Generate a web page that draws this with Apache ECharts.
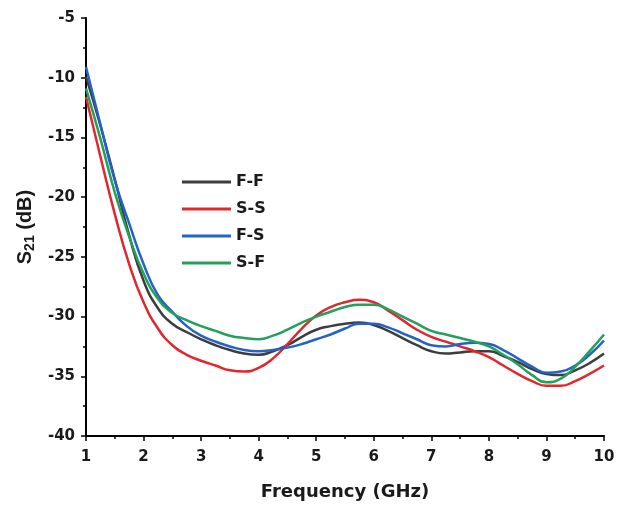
<!DOCTYPE html>
<html lang="en">
<head>
    <meta charset="UTF-8">
    <title>S21 vs Frequency</title>
    <script src="https://cdn.jsdelivr.net/npm/echarts@6/dist/echarts.min.js"></script>
    <style>
        html, body { margin: 0; padding: 0; background: #fff; }
        #chart { width: 625px; height: 506px; }
    </style>
</head>
<body>
<div id="chart"></div>
<script type="text/javascript">
    // frequency points (GHz)
    var freq = [1, 1.25, 1.5, 1.75, 2, 2.25, 2.5, 2.75, 3, 3.25, 3.5, 3.75, 4, 4.25, 4.5, 4.75, 5, 5.25, 5.5, 5.75,
                6, 6.25, 6.5, 6.75, 7, 7.25, 7.5, 7.75, 8, 8.25, 8.5, 8.75, 9, 9.25, 9.5, 9.75, 10];
    // S21 (dB)
    var ffVals = [-9.9, -14.0, -18.5, -23.2, -27.0, -29.3, -30.6, -31.3, -31.9, -32.4, -32.8, -33.1, -33.2, -32.9, -32.4, -31.7, -31.1, -30.8, -30.6, -30.5,
                  -30.7, -31.2, -31.8, -32.4, -32.9, -33.1, -33.0, -32.9, -32.9, -33.3, -33.8, -34.4, -34.8, -34.9, -34.5, -33.9, -33.1];
    var ssVals = [-11.6, -16.6, -21.4, -25.6, -28.8, -31.0, -32.4, -33.2, -33.7, -34.1, -34.5, -34.6, -34.3, -33.5, -32.3, -31.0, -29.9, -29.2, -28.8, -28.6,
                  -28.8, -29.5, -30.3, -31.1, -31.7, -32.1, -32.5, -32.9, -33.4, -34.1, -34.8, -35.4, -35.8, -35.8, -35.4, -34.8, -34.1];
    var fsVals = [-9.1, -13.9, -18.6, -22.2, -25.6, -28.2, -29.6, -30.8, -31.6, -32.1, -32.5, -32.8, -32.9, -32.8, -32.6, -32.3, -31.9, -31.5, -31.0, -30.6,
                  -30.6, -30.9, -31.4, -31.9, -32.4, -32.5, -32.3, -32.2, -32.3, -32.8, -33.5, -34.2, -34.7, -34.6, -34.1, -33.2, -32.0];
    var sfVals = [-10.9, -15.1, -19.6, -23.3, -26.4, -28.5, -29.7, -30.3, -30.8, -31.2, -31.6, -31.8, -31.9, -31.6, -31.1, -30.5, -30.0, -29.6, -29.2, -29.0,
                  -29.0, -29.4, -30.0, -30.6, -31.2, -31.5, -31.8, -32.1, -32.5, -33.2, -34.0, -34.9, -35.5, -35.2, -34.2, -32.9, -31.5];
    var names = ['F-F', 'S-S', 'F-S', 'S-F'];
    var colors = ['#3d3d3d', '#e3262c', '#2462c8', '#23a05c'];

    function pairs(vals) {
        var out = [];
        for (var i = 0; i < freq.length; i++) {
            out.push([freq[i], vals[i]]);
        }
        return out;
    }

    var allVals = [ffVals, ssVals, fsVals, sfVals];
    var series = [];
    for (var k = 0; k < names.length; k++) {
        series.push({
            name: names[k],
            type: 'line',
            smooth: 0.5,
            symbol: 'none',
            data: pairs(allVals[k]),
            lineStyle: { width: 2.5, color: colors[k] },
            itemStyle: { color: colors[k] }
        });
    }

    var chart = echarts.init(document.getElementById('chart'));
    var option = {
        animation: false,
        backgroundColor: '#fff',
        grid: { left: 86, right: 21, top: 18, bottom: 70, outerBoundsMode: 'none' },
        legend: {
            data: names,
            orient: 'vertical',
            left: 182,
            top: 173,
            padding: 0,
            icon: 'rect',
            itemWidth: 49,
            itemHeight: 3,
            itemGap: 9,
            textStyle: { fontFamily: 'DejaVu Sans', fontWeight: 'bold', fontSize: 16, color: '#1a1a1a', lineHeight: 18 }
        },
        xAxis: {
            type: 'value',
            min: 1,
            max: 10,
            interval: 1,
            name: 'Frequency (GHz)',
            nameLocation: 'middle',
            nameGap: 47,
            nameTextStyle: { fontFamily: 'DejaVu Sans', fontWeight: 'bold', fontSize: 18, color: '#1a1a1a' },
            axisLine: { lineStyle: { color: '#000', width: 2 } },
            axisTick: { inside: false, length: 5, lineStyle: { color: '#000', width: 1.5 } },
            minorTick: { show: true, splitNumber: 2, length: 3, lineStyle: { color: '#000', width: 1.5 } },
            axisLabel: { margin: 14, fontFamily: 'DejaVu Sans', fontWeight: 'bold', fontSize: 15, color: '#1a1a1a' },
            splitLine: { show: false }
        },
        yAxis: {
            type: 'value',
            min: -40,
            max: -5,
            interval: 5,
            name: '{a|S}{s|21}{a| (dB)}',
            nameLocation: 'middle',
            nameGap: 47,
            nameTextStyle: {
                rich: {
                    a: { fontFamily: 'Liberation Sans', fontWeight: 'bold', fontSize: 20, color: '#1a1a1a', lineHeight: 24 },
                    s: { fontFamily: 'Liberation Sans', fontWeight: 'bold', fontSize: 14, color: '#1a1a1a', verticalAlign: 'bottom', lineHeight: 24, padding: [9, 0, 0, 0] }
                }
            },
            axisLine: { show: true, lineStyle: { color: '#000', width: 2 } },
            axisTick: { show: true, inside: false, length: 5, lineStyle: { color: '#000', width: 1.5 } },
            minorTick: { show: true, splitNumber: 2, length: 3, lineStyle: { color: '#000', width: 1.5 } },
            axisLabel: { margin: 11, fontFamily: 'DejaVu Sans', fontWeight: 'bold', fontSize: 15, color: '#1a1a1a' },
            splitLine: { show: false }
        },
        series: series
    };
    chart.setOption(option);
</script>
</body>
</html>
